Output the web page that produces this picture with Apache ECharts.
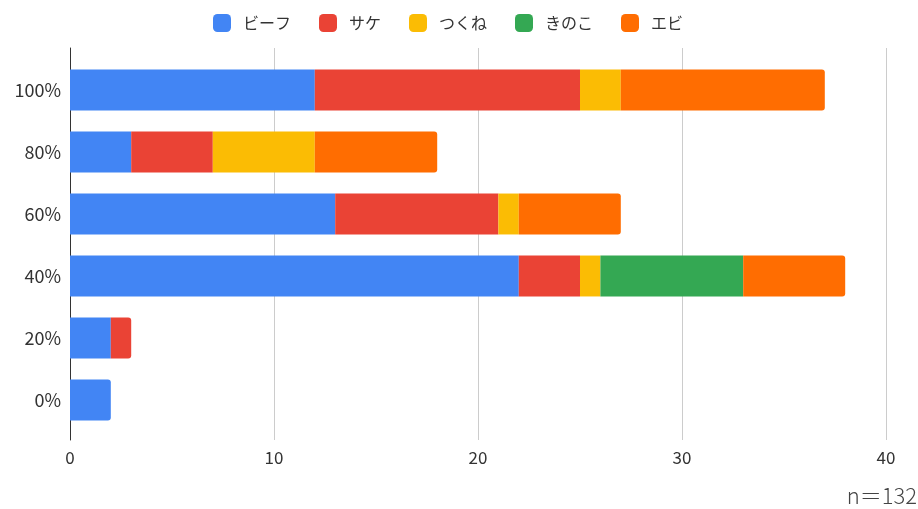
<!DOCTYPE html>
<html><head><meta charset="utf-8">
<script src="https://cdn.jsdelivr.net/npm/echarts@6/dist/echarts.min.js"></script>
<style>html,body{margin:0;padding:0;background:#fff}#c{width:918px;height:509px}</style>
</head><body><div id="c"></div>
<script>
const categories = ['0%', '20%', '40%', '60%', '80%', '100%'];
const seriesNames = ['ビーフ', 'サケ', 'つくね', 'きのこ', 'エビ'];
const beef =     [2, 2, 22, 13, 3, 12];
const salmon =   [0, 1, 3, 8, 4, 13];
const tsukune =  [0, 0, 1, 1, 5, 2];
const kinoko =   [0, 0, 7, 0, 0, 0];
const ebi =      [0, 0, 5, 5, 6, 10];
const xTicks = [0, 10, 20, 30, 40];
const colors = ['#4285F4', '#EA4335', '#FBBC04', '#34A853', '#FF6D01'];
const noteText = 'n＝132';

const allVals = [beef, salmon, tsukune, kinoko, ebi];
const lastIdx = categories.map((_, ci) => {
  let li = -1;
  allVals.forEach((arr, si) => { if (arr[ci] > 0) li = si; });
  return li;
});
const font = "'Noto Sans CJK JP', 'Noto Sans', sans-serif";
const chart = echarts.init(document.getElementById('c'), null, {renderer: 'canvas'});
chart.setOption({
  animation: false,
  color: colors,
  textStyle: {fontFamily: font},
  legend: {
    top: 9, left: 208,
    itemWidth: 18, itemHeight: 18, itemGap: 28,
    icon: 'roundRect',
    textStyle: {fontSize: 16, color: '#333', fontFamily: font, padding: [0, 0, 0, 7]},
    data: seriesNames
  },
  grid: [
    {left: 70, right: 32, top: 48, bottom: 69},
    {left: 70, right: 32, top: 59, height: 372}
  ],
  xAxis: [
    {gridIndex: 0, type: 'value', min: xTicks[0], max: xTicks[xTicks.length - 1], interval: 10,
     axisLine: {show: false}, axisTick: {show: false},
     splitLine: {show: true, lineStyle: {color: '#cccccc', width: 1}},
     axisLabel: {fontSize: 17, color: '#333', margin: 9, fontFamily: font}},
    {gridIndex: 1, type: 'value', min: 0, max: 40, show: false}
  ],
  yAxis: [
    {gridIndex: 0, type: 'value', min: 0, max: 1,
     axisLine: {show: true, lineStyle: {color: '#333', width: 1}},
     axisTick: {show: false}, axisLabel: {show: false}, splitLine: {show: false}},
    {gridIndex: 1, type: 'category', data: categories,
     axisLine: {show: false}, axisTick: {show: false},
     axisLabel: {fontSize: 18, color: '#333', margin: 9, fontFamily: font}}
  ],
  series: seriesNames.map((name, si) => ({
    name, type: 'bar', stack: 'total', xAxisIndex: 1, yAxisIndex: 1,
    barCategoryGap: '34%',
    data: allVals[si].map((v, ci) => ({
      value: v,
      itemStyle: lastIdx[ci] === si ? {borderRadius: [0, 3, 3, 0]} : {}
    }))
  })),
  graphic: [{
    type: 'text', right: 1, top: 485,
    style: {text: noteText, fontSize: 22, fill: '#444', fontWeight: 300, fontFamily: font}
  }]
});
</script></body></html>
